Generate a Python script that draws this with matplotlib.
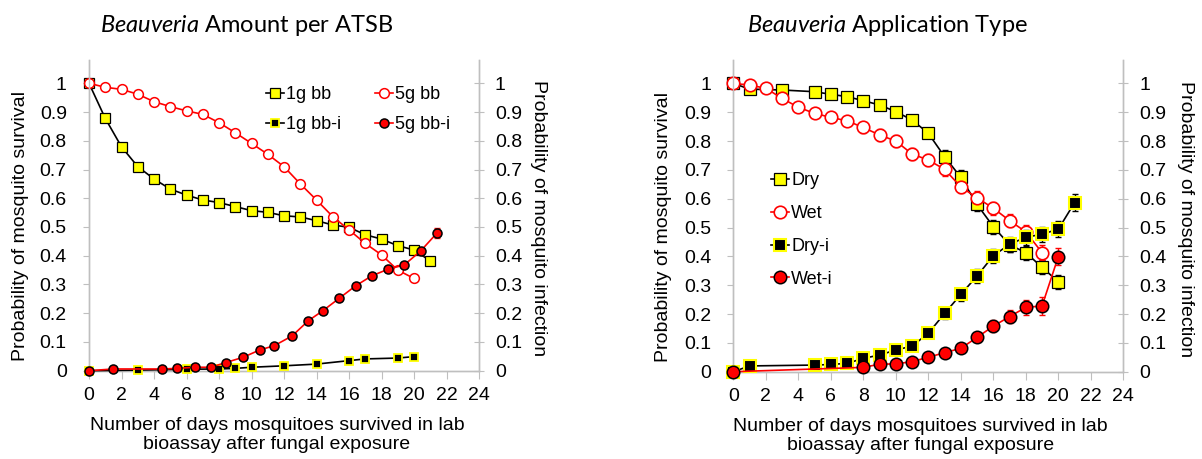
import matplotlib
matplotlib.use("Agg")
import matplotlib.pyplot as plt
from matplotlib.ticker import FuncFormatter
import numpy as np

plt.rcParams['font.family'] = ['Liberation Sans', 'DejaVu Sans']
plt.rcParams['mathtext.fontset'] = 'custom'
plt.rcParams['mathtext.it'] = 'Lato:italic'
plt.rcParams['mathtext.rm'] = 'Lato'

# ---- Beauveria amount per ATSB ----
days_1g = [0, 1, 2, 3, 4, 5, 6, 7, 8, 9, 10, 11, 12, 13, 14, 15, 16, 17, 18, 19, 20, 21]
surv_1g = [1.0, 0.878, 0.779, 0.710, 0.667, 0.632, 0.611, 0.594, 0.585, 0.571, 0.557,
           0.551, 0.539, 0.535, 0.522, 0.507, 0.499, 0.473, 0.458, 0.435, 0.420, 0.382]
days_5g = [0, 1, 2, 3, 4, 5, 6, 7, 8, 9, 10, 11, 12, 13, 14, 15, 16, 17, 18, 19, 20]
surv_5g = [1.0, 0.986, 0.979, 0.962, 0.936, 0.919, 0.904, 0.892, 0.863, 0.828, 0.791,
           0.753, 0.710, 0.650, 0.594, 0.536, 0.490, 0.443, 0.403, 0.350, 0.321]
days_1g_i = [0, 3, 6, 8, 9, 10, 12, 14, 16, 17, 19, 20]
inf_1g = [0.0, 0.002, 0.005, 0.006, 0.008, 0.012, 0.017, 0.023, 0.035, 0.041, 0.044, 0.049]
days_5g_i = [0, 1.5, 4.5, 5.4, 6.5, 7.5, 8.4, 9.5, 10.5, 11.4, 12.5, 13.5, 14.4, 15.4,
             16.4, 17.4, 18.4, 19.4, 20.4, 21.4]
inf_5g = [0.0, 0.006, 0.006, 0.008, 0.012, 0.012, 0.028, 0.047, 0.072, 0.087, 0.121,
          0.174, 0.209, 0.252, 0.295, 0.330, 0.353, 0.368, 0.416, 0.478]
err_5g_i = [0, 0, 0, 0, 0, 0, 0, 0, 0, 0, 0, 0, 0.006, 0.006, 0.008, 0.008, 0.008,
            0.010, 0.012, 0.018]

# ---- Beauveria application type ----
days_dry = [0, 1, 3, 5, 6, 7, 8, 9, 10, 11, 12, 13, 14, 15, 16, 17, 18, 19, 20]
surv_dry = [1.0, 0.980, 0.977, 0.971, 0.962, 0.954, 0.940, 0.925, 0.902, 0.873, 0.827,
            0.746, 0.674, 0.580, 0.503, 0.440, 0.413, 0.362, 0.312]
err_dry = [0, 0, 0, 0, 0, 0, 0, 0, 0, 0.01, 0.015, 0.024, 0.024, 0.024, 0.024, 0.024,
           0.024, 0.024, 0.024]
days_wet = [0, 1, 2, 3, 4, 5, 6, 7, 8, 9, 10, 11, 12, 13, 14, 15, 16, 17, 18, 19]
surv_wet = [1.0, 0.994, 0.983, 0.948, 0.917, 0.896, 0.882, 0.870, 0.847, 0.821, 0.800,
            0.755, 0.734, 0.702, 0.641, 0.603, 0.567, 0.524, 0.485, 0.413]
err_wet = [0, 0, 0, 0, 0.01, 0.012, 0.015, 0.015, 0.02, 0.02, 0.02, 0.02, 0.022, 0.022,
           0.022, 0.022, 0.022, 0.022, 0.024, 0.026]
days_dry_i = [0, 1, 5, 6, 7, 8, 9, 10, 11, 12, 13, 14, 15, 16, 17, 18, 19, 20, 21]
inf_dry = [0.0, 0.020, 0.023, 0.025, 0.029, 0.046, 0.058, 0.075, 0.089, 0.133, 0.202,
           0.268, 0.332, 0.402, 0.442, 0.466, 0.477, 0.494, 0.586]
err_dry_i = [0, 0, 0, 0, 0, 0.01, 0.01, 0.01, 0.012, 0.015, 0.02, 0.022, 0.024, 0.025,
             0.026, 0.026, 0.026, 0.028, 0.030]
days_wet_i = [0, 8, 9, 10, 11, 12, 13, 14, 15, 16, 17, 18, 19, 20]
inf_wet = [0.0, 0.015, 0.026, 0.027, 0.035, 0.050, 0.066, 0.081, 0.119, 0.158, 0.191,
           0.223, 0.228, 0.399]
err_wet_i = [0, 0, 0, 0, 0, 0, 0, 0.01, 0.015, 0.02, 0.022, 0.025, 0.03, 0.03]

x_ticks = list(range(0, 25, 2))
y_ticks = [0, 0.1, 0.2, 0.3, 0.4, 0.5, 0.6, 0.7, 0.8, 0.9, 1]

YELLOW = '#FFFF00'
RED = '#FF0000'
GRAY = '#BFBFBF'
FS = 14

W, H = 1202, 459
fig = plt.figure(figsize=(W / 100, H / 100), dpi=100)


def box(x0, x1, ytop, ybot):
    return [x0 / W, 1 - ybot / H, (x1 - x0) / W, (ybot - ytop) / H]


fmt = FuncFormatter(lambda v, p: f"{round(v, 2):g}")


def style(ax, axr, top_frac):
    for a in (ax, axr):
        a.set_xlim(0, 24)
        a.set_ylim(0, top_frac)
        a.set_yticks(y_ticks)
        a.yaxis.set_major_formatter(fmt)
        a.spines['top'].set_visible(False)
        for s in ('left', 'right', 'bottom'):
            a.spines[s].set_color(GRAY)
            a.spines[s].set_linewidth(1.0)
    ax.set_xticks(x_ticks)
    ax.tick_params(axis='x', direction='out', length=6, color=GRAY, labelsize=FS, pad=6)
    ax.tick_params(axis='y', direction='out', length=4, color=GRAY, labelsize=FS, pad=12)
    axr.tick_params(axis='y', direction='inout', length=7, color=GRAY, labelsize=FS, pad=8)
    ax.set_xlabel("Number of days mosquitoes survived in lab\nbioassay after fungal exposure",
                  fontsize=FS, linespacing=1.2)
    ax.set_ylabel("Probability of mosquito survival", fontsize=FS)
    axr.set_ylabel("Probability of mosquito infection", fontsize=FS, rotation=270, va='bottom')


# ---------------- left panel ----------------
ax1 = fig.add_axes(box(89, 479, 60, 370.7))
ax1r = ax1.twinx()
style(ax1, ax1r, 1.081)
ax1.xaxis.set_label_coords(0.482, -0.148)
ax1.yaxis.set_label_coords(-0.154, 0.465)
ax1r.yaxis.set_label_coords(1.131, 0.49)

l1, = ax1.plot(days_1g, surv_1g, color='black', lw=1.2, marker='s', ms=7,
               mfc=YELLOW, mec='black', mew=0.9, label='1g bb', clip_on=False, zorder=3)
l2, = ax1.plot(days_5g, surv_5g, color=RED, lw=1.2, marker='o', ms=7,
               mfc='white', mec=RED, mew=1.1, label='5g bb', clip_on=False, zorder=4)
l3, = ax1r.plot(days_1g_i, inf_1g, color='black', lw=1.2, marker='s', ms=5.5,
                mfc='black', mec=YELLOW, mew=1.3, label='1g bb-i', clip_on=False, zorder=3)
ax1r.errorbar(days_5g_i, inf_5g, yerr=err_5g_i, fmt='none', ecolor=RED, elinewidth=1,
              capsize=2, zorder=3)
l4, = ax1r.plot(days_5g_i, inf_5g, color=RED, lw=1.2, marker='o', ms=6.5,
                mfc=RED, mec='black', mew=1.1, label='5g bb-i', clip_on=False, zorder=4)
ax1r.legend(handles=[l1, l3, l2, l4], ncol=2, loc='center', bbox_to_anchor=(0.69, 0.84),
            frameon=False, fontsize=13, handlelength=1.0, handletextpad=0.1,
            columnspacing=1.9, labelspacing=0.7, borderpad=0)

# ---------------- right panel ----------------
ax2 = fig.add_axes(box(733.3, 1123.3, 60, 371.7))
ax2r = ax2.twinx()
style(ax2, ax2r, 1.081)
ax2.xaxis.set_label_coords(0.479, -0.148)
ax2.yaxis.set_label_coords(-0.157, 0.465)
ax2r.yaxis.set_label_coords(1.138, 0.49)

ax2.errorbar(days_dry, surv_dry, yerr=err_dry, fmt='none', ecolor='black', elinewidth=1,
             capsize=2, zorder=2)
d1, = ax2.plot(days_dry, surv_dry, color='black', lw=1.2, marker='s', ms=8.5,
               mfc=YELLOW, mec='black', mew=0.9, label='Dry', clip_on=False, zorder=3)
ax2.errorbar(days_wet, surv_wet, yerr=err_wet, fmt='none', ecolor=RED, elinewidth=1,
             capsize=2, zorder=2)
d2, = ax2.plot(days_wet, surv_wet, color=RED, lw=1.2, marker='o', ms=9,
               mfc='white', mec=RED, mew=1.2, label='Wet', clip_on=False, zorder=4)
ax2r.errorbar(days_dry_i, inf_dry, yerr=err_dry_i, fmt='none', ecolor='black',
              elinewidth=1, capsize=2, zorder=2)
d3, = ax2r.plot(days_dry_i, inf_dry, color='black', lw=1.2, marker='s', ms=8.5,
                mfc='black', mec=YELLOW, mew=1.5, label='Dry-i', clip_on=False, zorder=3)
ax2r.errorbar(days_wet_i, inf_wet, yerr=err_wet_i, fmt='none', ecolor=RED,
              elinewidth=1, capsize=2, zorder=2)
d4, = ax2r.plot(days_wet_i, inf_wet, color=RED, lw=1.2, marker='o', ms=9,
                mfc=RED, mec='black', mew=1.1, label='Wet-i', clip_on=False, zorder=4)
ax2r.legend(handles=[d1, d2, d3, d4], loc='center', bbox_to_anchor=(0.176, 0.455),
            frameon=False, fontsize=13, handlelength=1.0, handletextpad=0.1,
            labelspacing=0.88, borderpad=0)

# ---------------- titles ----------------
fig.text(247 / W, 1 - 25 / H, r"$\mathit{Beauveria}$ Amount per ATSB", fontfamily='Lato',
         fontsize=17, ha='center', va='center')
fig.text(887 / W, 1 - 25 / H, r"$\mathit{Beauveria}$ Application Type", fontfamily='Lato',
         fontsize=17, ha='center', va='center')

fig.savefig("out.png", dpi=100)
